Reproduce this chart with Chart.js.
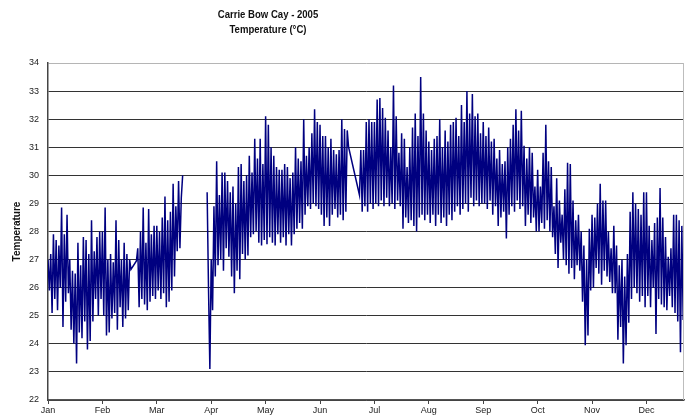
<!DOCTYPE html>
<html>
<head>
<meta charset="utf-8">
<script src="https://cdn.jsdelivr.net/npm/chart.js@4.4.1/dist/chart.umd.min.js"></script>
<style>
  html, body { margin: 0; padding: 0; background: #fff; }
  #wrap { width: 685px; height: 419px; position: relative; }
</style>
</head>
<body>
<div id="wrap"><canvas id="c" width="685" height="419"></canvas></div>
<script>
// ---- Text ----
const titleLines = ['Carrie Bow Cay - 2005', 'Temperature (°C)'];
const yTitle = 'Temperature';
const monthLabels = ['Jan','Feb','Mar','Apr','May','Jun','Jul','Aug','Sep','Oct','Nov','Dec'];

// ---- Values (°C), 40 readings per month (local highs / lows) ----
const jan = [27.0,25.9, 27.2,25.1, 27.9,25.6, 27.7,25.2, 27.5,26.0, 28.85,24.6, 27.9,25.5, 28.6,25.8, 27.0,24.5, 26.6,24.0,
             26.5,23.3, 27.6,24.4, 26.8,24.2, 27.8,24.8, 27.7,23.8, 27.2,24.1, 28.4,24.8, 27.3,25.6, 27.8,25.0, 28.0,25.6];
const feb = [28.0,25.0, 28.85,24.3, 27.0,24.4, 27.2,24.9, 26.9,25.1, 28.4,24.5, 27.7,25.3, 27.0,24.6, 27.6,24.9, 27.2,25.2,
             27.0,26.65, null,null, null,26.95, 27.4,25.3, 28.0,25.6, 28.85,25.4, 27.6,25.2, 28.8,25.5, 27.9,25.7, 28.2,25.6];
const mar = [28.2,25.9, 28.0,25.6, 28.5,25.8, 29.25,25.3, 28.4,25.5, 28.7,25.9, 29.7,26.4, 28.9,27.3, 29.8,27.4, 29.2,30.0,
             null,null,null,null,null,null,null,null,null,null,null,null,null,null,null,null,null, 29.4,26.0,23.1];
const apr = [27.0,25.2, 28.9,26.4, 30.5,26.8, 29.3,27.0, 30.1,26.6, 30.1,27.4, 29.8,27.1, 29.4,26.4, 29.6,25.8, 29.0,26.6,
             30.3,26.3, 30.4,27.2, 29.8,27.0, 30.0,27.15, 30.7,27.8, 30.1,27.9, 31.3,28.0, 30.6,27.6, 31.3,27.5, 30.4,27.7];
const may = [32.1,27.55, 31.8,27.8, 31.0,27.6, 30.7,27.5, 30.3,27.9, 30.2,27.6, 30.2,27.8, 30.4,27.5, 30.3,27.9, 29.9,27.5,
             30.1,27.9, 31.0,28.1, 30.6,28.3, 30.5,28.1, 32.0,28.6, 30.7,28.9, 31.0,28.8, 31.5,29.0, 32.35,28.9, 31.9,28.8];
const jun = [31.8,28.6, 31.4,28.2, 31.4,28.5, 31.0,28.2, 31.3,28.6, 30.9,28.8, 30.75,28.5, 30.9,28.6, 32.0,28.4, 31.65,28.7,
             31.6,31.0, null,null, null,null, null,null, null,29.3, 30.9,28.7, 30.9,28.9, 31.9,28.7, 32.0,29.0, 31.9,28.8];
const jul = [31.9,29.0, 32.7,28.9, 32.75,29.1, 32.4,28.9, 32.05,29.2, 31.6,28.9, 31.0,29.0, 33.2,28.8, 32.1,29.1, 30.8,28.9,
             31.5,28.1, 31.3,28.5, 30.3,28.3, 31.0,28.4, 31.7,28.2, 32.2,28.0, 31.4,28.5, 33.5,28.6, 32.2,28.4, 31.6,28.6];
const aug = [31.2,28.3, 30.9,28.6, 31.3,28.2, 31.4,28.6, 32.0,28.3, 31.0,28.5, 31.6,28.2, 31.2,28.6, 31.8,28.4, 31.9,28.7,
             32.05,28.9, 31.4,28.6, 32.5,28.8, 31.9,29.0, 33.0,28.7, 32.2,29.2, 32.9,28.9, 32.1,29.1, 32.2,28.9, 31.5,29.0];
const sep = [31.9,29.0, 31.4,28.8, 31.7,29.1, 31.2,28.6, 31.3,28.9, 30.6,28.2, 30.9,28.5, 30.4,28.7, 30.5,27.75, 31.0,28.6,
             31.3,28.9, 31.8,28.7, 32.35,29.1, 31.6,28.8, 32.3,28.9, 31.05,28.2, 30.6,28.6, 31.0,28.3, 30.8,28.5, 29.6,28.0];
const oct = [30.2,28.0, 29.6,28.3, 30.8,28.1, 31.8,28.4, 30.5,28.0, 30.3,27.8, 28.9,27.2, 29.9,26.7, 29.1,27.6, 28.6,27.0,
             29.5,26.8, 30.45,26.5, 30.4,26.7, 29.1,26.3, 28.4,26.8, 28.6,26.6, 28.0,25.5, 27.5,23.95, 27.0,24.3, 28.1,25.9];
const nov = [28.6,26.0, 28.5,26.7, 29.0,26.5, 29.7,26.1, 29.1,26.6, 29.1,26.4, 28.0,26.2, 27.4,25.8, 28.2,25.8, 27.5,24.15,
             26.8,24.6, 27.0,23.3, 26.4,23.95, 27.2,24.75, 28.7,25.6, 29.4,26.0, 29.0,25.8, 28.8,25.5, 28.6,25.7, 29.4,25.3];
const dec = [29.4,25.7, 28.2,25.3, 27.7,26.0, 28.3,24.35, 28.5,25.6, 29.55,25.4, 28.5,25.3, 27.8,25.2, 27.1,25.7, 27.4,25.3,
             28.6,25.1, 28.6,24.8, 28.4,23.7, 28.2,24.85];

const readingsPerMonth = 40;
const yMin = 22, yMax = 34;
const xMax = 11.69;   // visible span in months

// Build the series (x in months); missing readings are dropped, the long March gap stays open
const all = [].concat(jan, feb, mar, apr, may, jun, jul, aug, sep, oct, nov, dec);
const points = [];
all.forEach((v, i) => { if (v !== null) points.push({ x: i / readingsPerMonth, y: v }); });

const FONT = '"Liberation Sans", Arial, sans-serif';

const decor = {
  id: 'decor',
  afterDraw(chart) {
    const { ctx, chartArea } = chart;
    ctx.save();
    ctx.strokeStyle = '#bdbdbd';
    ctx.lineWidth = 1;
    ctx.beginPath();
    ctx.moveTo(chartArea.right - 0.5, chartArea.top);
    ctx.lineTo(chartArea.right - 0.5, chartArea.bottom);
    ctx.stroke();
    ctx.fillStyle = '#111';
    ctx.font = 'bold 11px ' + FONT;
    ctx.textAlign = 'center';
    ctx.textBaseline = 'middle';
    const ys = [15, 30];
    titleLines.forEach((t, k) => {
      ctx.save();
      ctx.translate(268, ys[k]);
      ctx.scale(0.87, 1);
      ctx.fillText(t, 0, 0);
      ctx.restore();
    });
    ctx.restore();
  }
};

new Chart(document.getElementById('c'), {
  type: 'line',
  data: {
    datasets: [{
      label: yTitle,
      data: points,
      borderColor: '#000080',
      borderWidth: 1.5,
      pointRadius: 0,
      tension: 0,
      spanGaps: 0.3
    }]
  },
  options: {
    responsive: false,
    animation: false,
    devicePixelRatio: 1,
    layout: { padding: { top: 63, right: 1, left: 0, bottom: 0 } },
    plugins: { legend: { display: false }, title: { display: false }, tooltip: { enabled: false } },
    scales: {
      x: {
        type: 'linear',
        min: 0,
        max: xMax,
        afterFit: s => { s.height = 19; },
        grid: { drawOnChartArea: false, drawTicks: true, tickLength: 4, color: '#444', lineWidth: 1 },
        border: { color: '#555', width: 1.5 },
        ticks: {
          stepSize: 1,
          includeBounds: false,
          autoSkip: false,
          maxRotation: 0,
          padding: 1,
          color: '#222',
          font: { family: FONT, size: 9 },
          callback: v => monthLabels[v] ?? ''
        }
      },
      y: {
        min: yMin,
        max: yMax,
        afterFit: s => { s.width = 48; },
        grid: {
          drawTicks: false,
          color: c => (c.tick && c.tick.value === yMax) ? '#b5b5b5' : '#333',
          lineWidth: 1
        },
        border: { color: '#444', width: 1.5 },
        ticks: { stepSize: 1, padding: 9, color: '#222', font: { family: FONT, size: 9 } },
        title: {
          display: true,
          text: yTitle,
          color: '#111',
          font: { family: FONT, size: 10, weight: 'bold' },
          padding: { top: 11, bottom: 0 }
        }
      }
    }
  },
  plugins: [decor]
});
</script>
</body>
</html>
